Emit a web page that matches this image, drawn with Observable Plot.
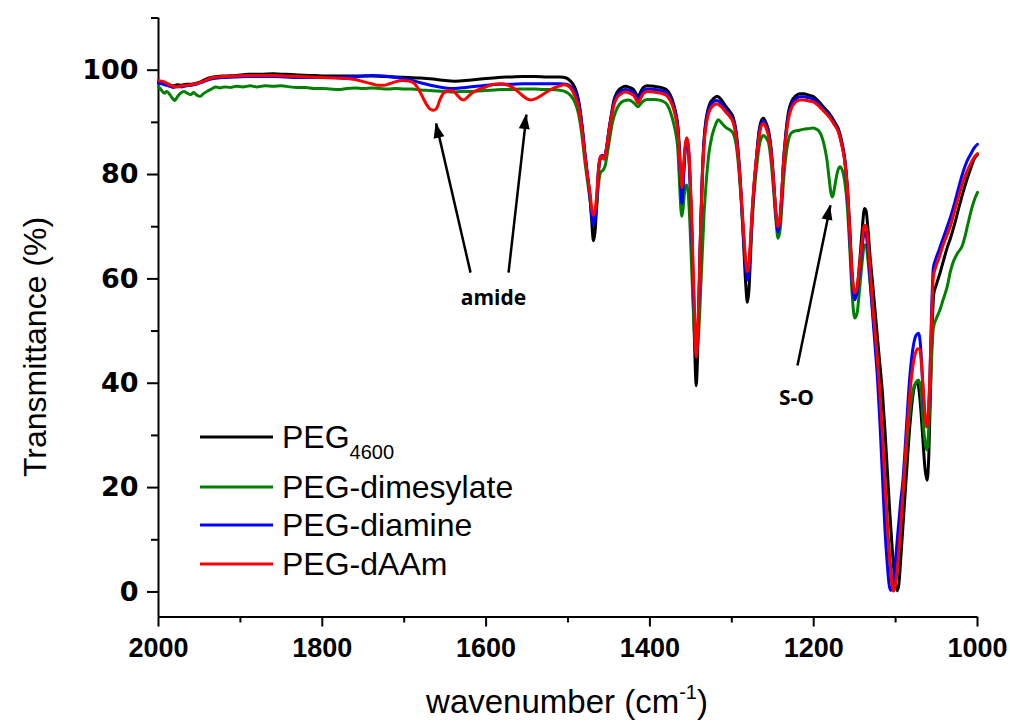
<!DOCTYPE html>
<html>
<head>
<meta charset="utf-8">
<script src="https://cdn.jsdelivr.net/npm/d3@7"></script>
<script src="https://cdn.jsdelivr.net/npm/@observablehq/plot@0.6"></script>
<style>
  body { margin: 0; background: #fff; }
  #chart svg { font-family: "Liberation Sans", Arial, sans-serif; }
  g[aria-label="x-axis tick label"] { font-family: "Liberation Sans", Arial, sans-serif; font-weight: bold; font-size: 27px; }
  g[aria-label="y-axis tick label"] { font-family: "DejaVu Sans", sans-serif; font-weight: bold; font-size: 27px; }
</style>
</head>
<body>
<div id="chart"></div>
<script>
// ---- categories / legend ----
const seriesNames = ["PEG4600", "PEG-dimesylate", "PEG-diamine", "PEG-dAAm"];
const seriesColors = ["#000000", "#008000", "#0000ff", "#ff0000"];

// ---- axes ----
const xDomain = [2000, 1000];
const yDomain = [-4.8, 110];
const xMajorTicks = [2000, 1800, 1600, 1400, 1200, 1000];
const xMinorTicks = [1900, 1700, 1500, 1300, 1100];
const yMajorTicks = [0, 20, 40, 60, 80, 100];
const yMinorTicks = [10, 30, 50, 70, 90, 110];

// ---- series: [wavenumber (cm-1), transmittance (%)] ----
const peg4600 = [[2000,97.8],[1994,97.7],[1988,97.3],[1982,97.0],[1977,97.2],[1972,97.1],[1966,97.3],[1960,97.3],[1954,97.5],[1948,97.8],[1942,98.3],[1936,98.6],[1928,98.8],[1918,98.9],[1905,99.0],[1890,99.2],[1875,99.2],[1860,99.3],[1845,99.2],[1830,99.1],[1815,99.0],[1800,98.9],[1785,98.9],[1770,98.9],[1755,98.9],[1740,98.9],[1725,98.8],[1710,98.7],[1695,98.6],[1680,98.5],[1665,98.3],[1650,98.0],[1638,97.9],[1625,98.0],[1612,98.2],[1600,98.4],[1585,98.6],[1570,98.7],[1555,98.8],[1540,98.8],[1525,98.7],[1510,98.7],[1502,98.5],[1497,97.9],[1492,96.8],[1487,94.2],[1483,89.5],[1479,83.5],[1476,79.5],[1473,75.5],[1471,71],[1469,67.3],[1467,69],[1465,74],[1462.5,81],[1460,83.2],[1458,83.5],[1456,83],[1453,85],[1450,88.5],[1447,91.5],[1444,94.2],[1440,95.8],[1435,96.6],[1430,96.9],[1425,96.7],[1420,96.3],[1417,95.5],[1414.5,94.9],[1412,95.6],[1408,96.7],[1403,97.0],[1395,96.9],[1387,96.7],[1380,96.3],[1375,95.2],[1371,93.5],[1368,91.5],[1366,89.5],[1364,85],[1362,78],[1361,76],[1359.5,79],[1357,85],[1355,87],[1353,85],[1351,79],[1349,70],[1347,56],[1345,45],[1343.5,39.5],[1342,44],[1340,56],[1338,70],[1336,80],[1334,86.5],[1331,91],[1327,93.5],[1322,94.6],[1318,95],[1313,94.4],[1308,93.2],[1302,92.0],[1298,90.8],[1295,88.5],[1292,84],[1289,77],[1286,68],[1283,59],[1281,55.5],[1279,58],[1277,65],[1275,72],[1273,77],[1270,83],[1267,88],[1264,90.3],[1261.5,90.8],[1258,89.8],[1255,88.3],[1252,85],[1249,79],[1246,72],[1243.5,69.3],[1241,71.5],[1239,76],[1237,82],[1234,88],[1231,91.8],[1227,94],[1222,95.1],[1217,95.5],[1212,95.5],[1206,95.2],[1200,94.9],[1195,94.2],[1190,93.3],[1185,92.4],[1180,91.5],[1175,90.2],[1170,88.8],[1166,86.5],[1162,83],[1159,78],[1156,70],[1153,61],[1150,56.5],[1147,58],[1144,63],[1141,69],[1138,73.5],[1136,73],[1134,70],[1131,64],[1128,59],[1124,52],[1120,45],[1116,38],[1113,31],[1110,23],[1107,15],[1104,8],[1101,2.5],[1098,0.2],[1096,1.5],[1093,8],[1090,15],[1087,22],[1083,31],[1079,37.5],[1076,39.8],[1073,40],[1070,36.5],[1067,30],[1064,23.5],[1061.5,21.4],[1059.5,26],[1057.5,38],[1055.5,50],[1053.5,57],[1050,59],[1046,61],[1041,63.8],[1037,66],[1033,67.8],[1028,70.5],[1023,73.5],[1018,76.4],[1013,79],[1008,81.3],[1004,83],[1000,83.8]];

const pegDimesylate = [[2000,96.8],[1997,96.3],[1993,95.6],[1990,95.9],[1986,95.3],[1983,94.6],[1980,94.2],[1977,94.9],[1973,95.6],[1969,95.9],[1965,95.6],[1961,95.3],[1957,95.7],[1953,95.2],[1949,95.0],[1945,95.5],[1940,96.0],[1935,96.4],[1930,96.8],[1925,96.6],[1920,96.8],[1912,96.7],[1905,96.9],[1897,96.8],[1888,97.0],[1880,96.8],[1870,97.0],[1860,96.9],[1850,97.0],[1840,96.8],[1830,96.7],[1820,96.7],[1810,96.5],[1800,96.5],[1790,96.4],[1780,96.3],[1770,96.5],[1760,96.6],[1750,96.5],[1740,96.6],[1730,96.5],[1720,96.4],[1710,96.5],[1700,96.4],[1690,96.4],[1680,96.2],[1670,96.1],[1660,96.0],[1650,95.9],[1640,95.8],[1630,95.9],[1620,95.9],[1610,96.0],[1600,96.1],[1590,96.2],[1580,96.3],[1570,96.3],[1560,96.4],[1550,96.4],[1540,96.4],[1530,96.3],[1520,96.3],[1512,96.2],[1505,96.0],[1500,95.6],[1496,95.0],[1492,94.0],[1487,91.5],[1483,87.5],[1479,82],[1476,78.5],[1473,75],[1471,72.5],[1469,71],[1467,72],[1465,74],[1462.5,78.5],[1460,80.5],[1457.5,80.8],[1455,81.5],[1452,84],[1449,87],[1446,89.8],[1442,92],[1437,93.5],[1432,94.1],[1426,94.3],[1420,93.8],[1417,93.3],[1414.5,93],[1412,93.4],[1408,94.1],[1403,94.4],[1395,94.4],[1387,94.2],[1380,93.6],[1375,92.0],[1371,89.8],[1368,87.5],[1366,85],[1364,79],[1362,73],[1361,72],[1359.5,73.5],[1357,77.5],[1355,78],[1353,76],[1351,70],[1349,62],[1347,54],[1345,48],[1343.5,46],[1342,47],[1340,51],[1338,58],[1336,65],[1334,72],[1331,79],[1328,84],[1324,87.5],[1320,89.5],[1316.5,90.5],[1312,89.8],[1307,89.0],[1302,88.5],[1298,87.8],[1295,86],[1292,82],[1289,76],[1286,69],[1283,62.5],[1281,60.5],[1279,62],[1277,66.5],[1275,71.5],[1273,76],[1270,81],[1267,85],[1264,87],[1261.5,87.5],[1258,87],[1255,86],[1252,82.5],[1249,77],[1246,71],[1243.5,67.8],[1241,69.5],[1239,73.5],[1237,78.5],[1234,83.5],[1231,86.5],[1227,88],[1222,88.4],[1217,88.5],[1212,88.7],[1206,88.8],[1201,88.9],[1197,88.7],[1193,88.2],[1190,87.2],[1187,85.5],[1184,83],[1181,79],[1179,76.5],[1177.5,75.7],[1176,76.2],[1174,78],[1171,80.5],[1168,81.5],[1165,80.8],[1162,78.5],[1159,74],[1156,66],[1153,57],[1150,52.5],[1147,53.5],[1144,58],[1141,63],[1138,66.5],[1136,66.5],[1134,64],[1131,59],[1128,54],[1124,47],[1120,39],[1116,29],[1112,18],[1108,8],[1105,2.5],[1103,0.2],[1101,1],[1098,5],[1095,11],[1091,19],[1087,27],[1083,34],[1079,38.5],[1075,40.2],[1072,40.6],[1069,38.5],[1067,34],[1065,30],[1062,27.2],[1060,30],[1058,37],[1056,45],[1054,50.5],[1050,52.5],[1046,54],[1042,56],[1037,58.5],[1033,61.5],[1029,63.5],[1024,65],[1019,66.2],[1015,68.3],[1011,71],[1007,73.5],[1003,75.5],[1000,76.6]];

const pegDiamine = [[2000,97.5],[1994,97.3],[1988,97.0],[1982,96.7],[1977,96.9],[1972,96.8],[1966,97.0],[1960,97.1],[1954,97.3],[1948,97.6],[1942,98.0],[1936,98.3],[1928,98.5],[1918,98.6],[1905,98.7],[1890,98.8],[1875,98.8],[1860,98.8],[1845,98.7],[1830,98.6],[1815,98.6],[1800,98.6],[1785,98.6],[1770,98.7],[1755,98.8],[1740,99.0],[1725,98.9],[1710,98.6],[1695,98.2],[1680,97.6],[1665,97.0],[1650,96.6],[1638,96.5],[1625,96.7],[1612,96.9],[1600,97.1],[1585,97.3],[1570,97.3],[1555,97.4],[1540,97.4],[1525,97.4],[1510,97.4],[1502,97.3],[1497,96.9],[1492,96.0],[1487,93.8],[1483,89.5],[1479,83.5],[1476,79.5],[1473,75.5],[1471,72],[1469,70.3],[1467,71.5],[1465,75],[1462.5,81.5],[1460,83.5],[1458,83.7],[1456,83.2],[1453,85],[1450,88.5],[1447,91.3],[1444,93.8],[1440,95.3],[1435,96.0],[1430,96.3],[1425,96.1],[1420,95.7],[1417,95.0],[1414.5,94.3],[1412,95.0],[1408,96.1],[1403,96.4],[1395,96.3],[1387,96.1],[1380,95.7],[1375,94.6],[1371,93],[1368,91],[1366,89],[1364,84],[1362,77],[1361,74.5],[1359.5,77.5],[1357,84.5],[1355,86.5],[1353,85],[1351,79],[1349,70],[1347,59],[1345,50],[1343.5,45.5],[1342,48],[1340,57],[1338,70],[1336,79.5],[1334,86],[1331,90.5],[1327,93],[1322,94],[1318,94.2],[1313,93.6],[1308,92.6],[1302,91.4],[1298,90.2],[1295,88],[1292,83.5],[1289,77],[1286,69],[1283,62],[1281,59.8],[1279,61.5],[1277,67],[1275,73],[1273,77.5],[1270,83],[1267,87.5],[1264,89.8],[1261.5,90.3],[1258,89.3],[1255,87.8],[1252,84.5],[1249,78.5],[1246,72],[1243.5,69],[1241,71.5],[1239,76],[1237,82],[1234,87.5],[1231,91.2],[1227,93.4],[1222,94.5],[1217,94.9],[1212,94.9],[1206,94.7],[1200,94.4],[1195,93.7],[1190,92.8],[1185,92.0],[1180,91.1],[1175,89.8],[1170,88.4],[1166,86],[1162,82.5],[1159,77],[1156,68],[1153,59],[1150,56],[1147,57.5],[1144,61.5],[1141,66],[1138,69],[1136,68.5],[1134,66],[1131,59.5],[1128,53],[1125,47],[1122,40.6],[1119,32],[1116,22],[1113,12],[1110,5],[1108,1.5],[1106,0.3],[1104,1],[1101,4.5],[1098,10],[1094,17],[1091,21.5],[1087,31],[1083,40.6],[1079,46.5],[1075,49.2],[1072,49.6],[1069,46],[1067,40],[1065,35],[1062,32],[1060,34],[1058,42],[1056,54],[1054,62],[1051,63.8],[1047,65.5],[1042,67.8],[1037,70],[1033,71.8],[1028,74.5],[1023,77.5],[1018,80.3],[1013,82.5],[1008,84],[1004,85.1],[1000,85.8]];

const pegDAAm = [[2000,98.0],[1994,97.8],[1988,97.3],[1982,96.9],[1977,96.8],[1972,97.0],[1966,97.1],[1960,97.2],[1954,97.4],[1948,97.7],[1942,98.1],[1936,98.5],[1928,98.7],[1918,98.8],[1905,98.9],[1890,99.0],[1875,99.0],[1860,99.0],[1845,98.9],[1830,98.8],[1815,98.7],[1800,98.6],[1785,98.5],[1770,98.4],[1760,98.2],[1750,97.8],[1740,97.4],[1732,97.1],[1725,97.1],[1718,97.4],[1710,97.8],[1702,98.0],[1695,97.9],[1688,97.5],[1683,96.5],[1678,95],[1673,93.5],[1668,92.5],[1664,92.3],[1660,92.8],[1656,94.5],[1652,95.6],[1647,96.0],[1642,96.1],[1638,95.7],[1634,95.0],[1630,94.4],[1627,94.3],[1623,94.8],[1618,95.5],[1613,96.0],[1605,96.5],[1597,97.0],[1590,97.3],[1582,97.4],[1575,97.2],[1568,96.7],[1562,96.0],[1556,95.2],[1550,94.5],[1545,94.3],[1540,94.5],[1533,95.1],[1525,95.9],[1517,96.6],[1510,97.0],[1505,97.2],[1500,97.0],[1496,96.4],[1492,95.2],[1487,92.8],[1483,88.5],[1479,83],[1476,79.5],[1473,76.2],[1471,73.5],[1469,72.2],[1467,73],[1465,76],[1462.5,81.5],[1460,83.5],[1458,83.4],[1456,83],[1453,85],[1450,88.3],[1447,91],[1444,93.3],[1440,94.8],[1435,95.5],[1430,95.8],[1425,95.6],[1420,95.2],[1417,94.4],[1414.5,93.7],[1412,94.4],[1408,95.5],[1403,95.9],[1395,95.8],[1387,95.6],[1380,95.2],[1375,94.1],[1371,92.5],[1368,90.5],[1366,88.5],[1364,84],[1362,79],[1361,77.5],[1359.5,80],[1357,85.5],[1355,87],[1353,85.5],[1351,80],[1349,72],[1347,61],[1345,51],[1343.5,45],[1342,48],[1340,58],[1338,70],[1336,79.5],[1334,85.5],[1331,89.8],[1327,92.3],[1322,93.3],[1318,93.5],[1313,93],[1308,92.1],[1302,91.0],[1298,89.8],[1295,87.5],[1292,83],[1289,77],[1286,70],[1283,63.5],[1281,61.4],[1279,63],[1277,68],[1275,73.5],[1273,78],[1270,83],[1267,87],[1264,89.3],[1261.5,89.8],[1258,88.8],[1255,87.3],[1252,84],[1249,78.5],[1246,72.5],[1243.5,70],[1241,72],[1239,76.5],[1237,82],[1234,87],[1231,90.5],[1227,92.8],[1222,93.9],[1217,94.3],[1212,94.3],[1206,94.1],[1200,93.9],[1195,93.3],[1190,92.5],[1185,91.7],[1180,90.8],[1175,89.6],[1170,88.2],[1166,85.8],[1162,82.5],[1159,77.5],[1156,69],[1153,60.5],[1150,57.3],[1147,58.5],[1144,62.5],[1141,67],[1138,70.3],[1136,70],[1134,67.5],[1131,61.5],[1128,55],[1124,48],[1120,40],[1116,30],[1112,18],[1108,8],[1105,2.5],[1102.5,0.2],[1100,1.5],[1097,6],[1094,12],[1090,21.5],[1086,31],[1081,40.6],[1077,45],[1073,46.6],[1071,46.5],[1068,43],[1066,38.5],[1064,34],[1062,31.6],[1060,34],[1058,42],[1056,52],[1054,60.3],[1051,62.3],[1047,64],[1042,66.5],[1037,68.5],[1033,70.2],[1028,73],[1023,75.8],[1018,78.4],[1013,80.5],[1008,82.2],[1004,83.3],[1000,84]];

// ---- annotations (data coordinates: tail -> tip) ----
const arrowNotes = [
  {x1: 1619, y1: 61.2, x2: 1661, y2: 89.8},
  {x1: 1572.6, y1: 61.2, x2: 1550.7, y2: 91.5},
  {x1: 1219.8, y1: 43.4, x2: 1179.5, y2: 74.1}
];
const textNotes = [
  {x: 1591, y: 54.9, label: "amide"},
  {x: 1221, y: 35.8, label: "S-O"}
];

const allSeries = [peg4600, pegDimesylate, pegDiamine, pegDAAm];
const rows = allSeries.map((s, i) => s.map(([wn, t]) => ({wn, t, series: seriesNames[i]})));

const lineMarks = rows.map((r, i) =>
  Plot.line(r, {x: "wn", y: "t", stroke: seriesColors[i], strokeWidth: 3, curve: "monotone-x"})
);

const plot = Plot.plot({
  width: 1010,
  height: 728,
  marginLeft: 158,
  marginRight: 33,
  marginTop: 17.5,
  marginBottom: 111.5,
  style: {background: "#fff", color: "#000", overflow: "visible"},
  x: {domain: xDomain, label: null},
  y: {domain: yDomain, label: null},
  marks: [
    Plot.axisX({ticks: xMinorTicks, tickSize: 6, strokeWidth: 2, tickFormat: () => "", label: null}),
    Plot.axisX({ticks: xMajorTicks, tickSize: 10, tickPadding: 11, strokeWidth: 2, tickFormat: d3.format("d"), label: null}),
    Plot.axisY({ticks: yMinorTicks, tickSize: 7, strokeWidth: 2, tickFormat: () => "", label: null}),
    Plot.axisY({ticks: yMajorTicks, tickSize: 11, tickPadding: 9, strokeWidth: 2, tickFormat: d3.format("d"), label: null}),
    Plot.ruleY([yDomain[0]], {strokeWidth: 2}),
    Plot.ruleX([xDomain[0]], {strokeWidth: 2}),
    ...lineMarks,
    Plot.link(arrowNotes, {x1: "x1", y1: "y1", x2: "x2", y2: "y2", stroke: "#000", strokeWidth: 2.5}),
    Plot.text(textNotes, {x: "x", y: "y", text: "label", textAnchor: "middle", lineAnchor: "bottom",
      fontFamily: "Open Sans", fontWeight: "bold", fontSize: 21, fill: "#000"})
  ]
});

document.getElementById("chart").appendChild(plot);

const svg = d3.select(plot);

// ---- filled arrowheads, positioned through the plot's own scales ----
const sx = plot.scale("x"), sy = plot.scale("y");
arrowNotes.forEach(a => {
  const x1 = sx.apply(a.x1), y1 = sy.apply(a.y1), x2 = sx.apply(a.x2), y2 = sy.apply(a.y2);
  const ang = Math.atan2(y2 - y1, x2 - x1);
  const L = 15, W = 5.5;
  const bx = x2 - L * Math.cos(ang), by = y2 - L * Math.sin(ang);
  const px = -Math.sin(ang) * W, py = Math.cos(ang) * W;
  svg.append("polygon")
    .attr("points", `${x2},${y2} ${bx + px},${by + py} ${bx - px},${by - py}`)
    .attr("fill", "#000");
});

// ---- axis titles ----
svg.append("text")
  .attr("transform", "translate(46,347) rotate(-90)")
  .attr("text-anchor", "middle")
  .attr("font-family", "Liberation Sans, Arial, sans-serif")
  .attr("font-size", 32)
  .attr("fill", "#000")
  .text("Transmittance (%)");

const xtitle = svg.append("text")
  .attr("x", 567).attr("y", 713)
  .attr("text-anchor", "middle")
  .attr("font-family", "Liberation Sans, Arial, sans-serif")
  .attr("font-size", 33)
  .attr("fill", "#000");
xtitle.append("tspan").text("wavenumber (cm");
xtitle.append("tspan").attr("font-size", 20).attr("dy", -14).text("-1");
xtitle.append("tspan").attr("dy", 14).text(")");

// ---- legend ----
const legendY = [437, 487, 525, 564];
const lg = svg.append("g")
  .attr("font-family", "Liberation Sans, Arial, sans-serif")
  .attr("font-size", 32)
  .attr("text-anchor", "start")
  .attr("fill", "#000");
seriesNames.forEach((name, i) => {
  lg.append("line").attr("x1", 200).attr("x2", 273)
    .attr("y1", legendY[i]).attr("y2", legendY[i])
    .attr("stroke", seriesColors[i]).attr("stroke-width", 3);
  const t = lg.append("text").attr("x", 282).attr("y", legendY[i] + 11).attr("text-anchor", "start");
  if (i === 0) {
    t.append("tspan").text("PEG");
    t.append("tspan").attr("font-size", 20).attr("dy", 11).text("4600");
  } else {
    t.text(name);
  }
});
</script>
</body>
</html>
